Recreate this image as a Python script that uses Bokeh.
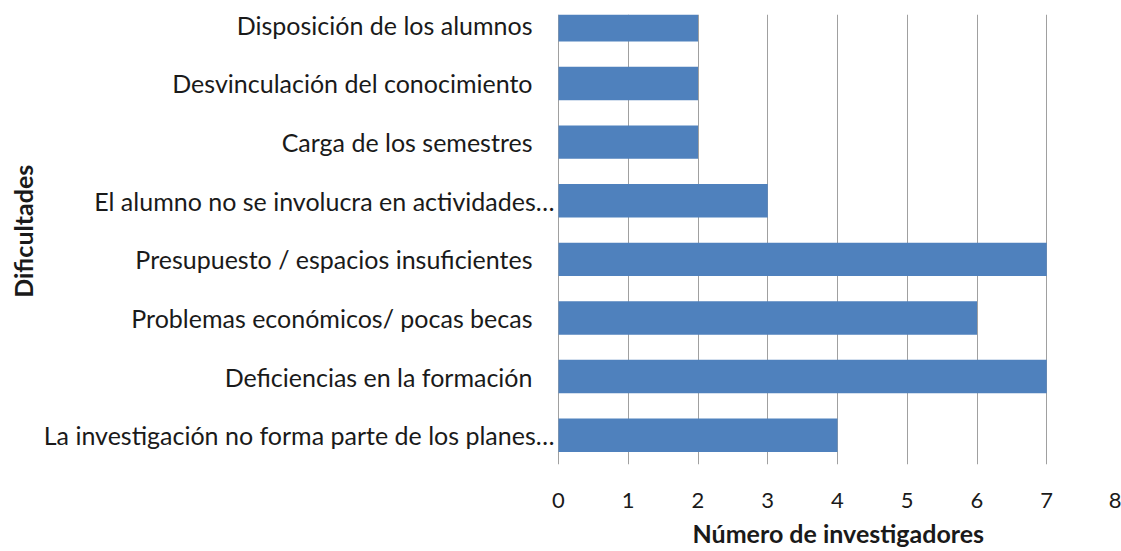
import math
from bokeh.plotting import figure
from bokeh.models import Range1d, FixedTicker, ColumnDataSource, Title
from bokeh.core.properties import value
from bokeh.embed import file_html
from bokeh.resources import INLINE

# ---- data (top to bottom as shown) ----
categories = [
    "Disposición de los alumnos",
    "Desvinculación del conocimiento",
    "Carga de los semestres",
    "El alumno no se involucra en actividades…",
    "Presupuesto / espacios insuficientes",
    "Problemas económicos/ pocas becas",
    "Deficiencias en la formación",
    "La investigación no forma parte de los planes…",
]
values = [2, 2, 2, 3, 7, 6, 7, 4]
x_ticks = [0, 1, 2, 3, 4, 5, 6, 7, 8]
x_title = "Número de investigadores"
y_title = "Dificultades"

FONT = "Lato"
BAR = "#4F81BD"
GRID = "#A0A0A0"
TXT = "#1a1a1a"

n = len(categories)
ypos = [n - 1 - i for i in range(n)]
x_min, x_max = -8.0, 8.0
y_min, y_max = -0.5, n - 1 + 0.177

p = figure(frame_width=1116, frame_height=450, output_backend="svg", toolbar_location=None,
           x_range=Range1d(x_min, x_max), y_range=Range1d(y_min, y_max),
           min_border_left=0, min_border_right=5, min_border_top=14, min_border_bottom=0)
p.outline_line_color = None
p.background_fill_color = "white"
p.border_fill_color = "white"

src = ColumnDataSource(dict(y=ypos, right=values, label=categories,
                            zero=[0] * n,
                            off=[-4 if c.endswith("…") else -26 for c in categories]))
p.hbar(y="y", left=0, right="right", height=0.57, source=src, fill_color=BAR, line_color=None)

# category labels (left of the value axis zero line)
p.text(x="zero", y="y", text="label", x_offset="off", source=src,
       text_align="right", text_baseline="middle",
       text_font=value(FONT), text_font_size="25px", text_color=TXT)

# vertical axis title
p.text(x=[x_min], y=[(y_min + y_max) / 2 + 0.14], text=[y_title], x_offset=22,
       angle=math.pi / 2, text_align="center", text_baseline="middle",
       text_font=value(FONT), text_font_size="25px", text_font_style="bold",
       text_color=TXT)

# axes
p.yaxis.visible = False
p.ygrid.visible = False
p.xgrid.ticker = FixedTicker(ticks=x_ticks)
p.xgrid.grid_line_color = GRID
p.xgrid.grid_line_width = 1
ax = p.xaxis[0]
ax.ticker = FixedTicker(ticks=x_ticks)
ax.axis_line_color = None
ax.major_tick_line_color = None
ax.minor_tick_line_color = None
ax.major_label_text_font = FONT
ax.major_label_text_font_size = "22px"
ax.major_label_text_color = TXT
ax.major_label_standoff = 22

# horizontal axis title, centred under the value axis (0..8)
p.add_layout(Title(text=x_title, align="left", offset=692, standoff=11,
                   text_font=FONT, text_font_size="25px", text_font_style="bold",
                   text_color=TXT), "below")

open("out.html", "w").write(file_html(p, INLINE))
